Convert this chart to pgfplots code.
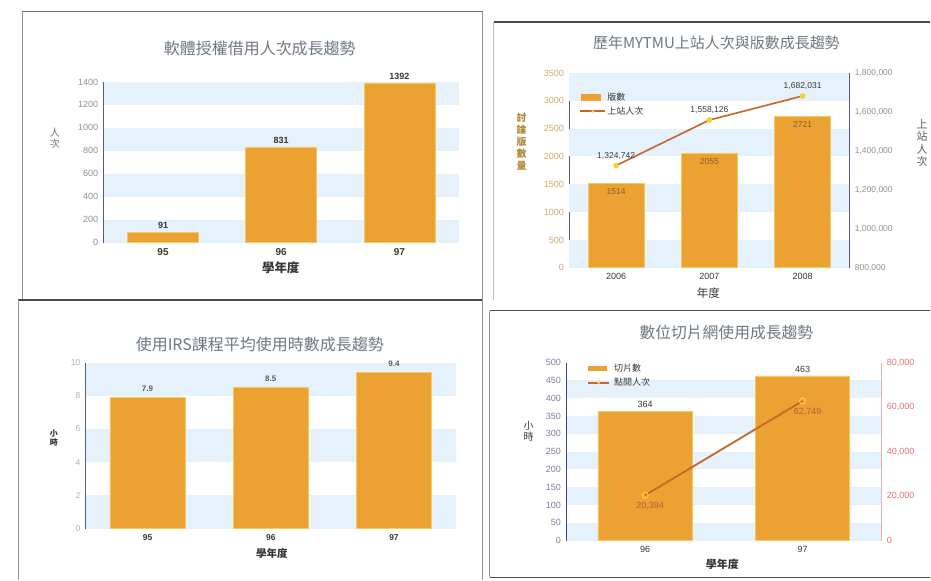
\documentclass[border=0pt]{standalone}
\usepackage{pgfplots}
\pgfplotsset{compat=1.18}
\usepackage{fontspec}
\setmainfont{Liberation Sans}
\newfontfamily\cjk{Noto Sans CJK TC}
\definecolor{barorange}{RGB}{236,162,50}
\definecolor{baredge}{RGB}{246,200,95}
\definecolor{band}{RGB}{230,242,251}
\definecolor{linebrown}{RGB}{198,102,42}
\definecolor{titlegrey}{RGB}{110,120,132}
\definecolor{tickgrey}{RGB}{145,145,145}
\definecolor{darktxt}{RGB}{55,55,55}
\definecolor{axisline}{RGB}{85,95,115}
\definecolor{navyaxis}{RGB}{60,70,110}
\definecolor{gold}{RGB}{180,135,55}
\definecolor{goldtick}{RGB}{205,170,105}
\definecolor{inbar}{RGB}{130,95,45}
\definecolor{bluegrey}{RGB}{120,130,160}
\definecolor{pinkred}{RGB}{225,115,115}
\definecolor{pinkaxis}{RGB}{238,175,175}
\definecolor{frame}{RGB}{75,75,75}
\definecolor{markyellow}{RGB}{250,205,60}
\definecolor{lblred}{RGB}{190,90,60}

\newcommand{\band}[4]{\addplot[fill=band, draw=none, forget plot] coordinates {(#3,#1) (#4,#1) (#4,#2) (#3,#2)} -- cycle;}

\pgfplotsset{
  panel/.style={
    scale only axis, anchor=south west, clip=false,
    axis lines=left, axis line style={axisline, line width=0.9pt, -},
    tick style={draw=none},
    /pgf/number format/assume math mode=true,
    /pgf/number format/fixed,
    /pgf/number format/1000 sep={},
    scaled y ticks=false,
  },
}

\begin{document}
\begin{tikzpicture}
\fill[white] (0pt,0pt) rectangle (931pt,581pt);
% panel frames
\draw[frame!80, line width=1pt] (22pt,569pt) -- (483pt,569pt);
\draw[frame!60, line width=0.8pt] (22pt,569pt) -- (22pt,281pt);
\draw[frame, line width=2pt] (18pt,281pt) -- (483pt,281pt);
\draw[frame!60, line width=0.8pt] (483pt,569pt) -- (483pt,0pt);
\draw[frame!60, line width=0.8pt] (18pt,281pt) -- (18pt,0pt);
\draw[frame, line width=1.5pt] (494pt,559pt) -- (931pt,559pt);
\draw[frame!35, line width=0.8pt] (494pt,559pt) -- (494pt,281pt);
\draw[frame, line width=1.5pt] (490pt,270pt) -- (931pt,270pt);
\draw[frame!60, line width=0.8pt] (490pt,270pt) -- (490pt,3pt);
\draw[frame, line width=1.2pt] (490pt,3pt) -- (931pt,3pt);

% ---------------- Panel 1 ----------------
\begin{axis}[panel, at={(104pt,338pt)}, width=355pt, height=161pt,
  xmin=-0.5, xmax=2.5, ymin=0, ymax=1400, ytick={0,200,...,1400},
  xtick={0,1,2}, xticklabels={95,96,97},
  xticklabel style={font=\bfseries\fontsize{10}{12}\selectfont, text=darktxt},
  yticklabel style={font=\fontsize{9}{10}\selectfont, text=tickgrey},
]
\band{0}{200}{-0.5}{2.5}
\band{400}{600}{-0.5}{2.5}
\band{800}{1000}{-0.5}{2.5}
\band{1200}{1400}{-0.5}{2.5}
\addplot[ybar, bar width=0.6, fill=barorange, draw=baredge, line width=0.6pt,
  nodes near coords,
  every node near coord/.append style={font=\bfseries\fontsize{9}{10}\selectfont, text=darktxt}]
  coordinates {(0,91) (1,831) (2,1392)};
\end{axis}
\node[font=\cjk\fontsize{16}{17}\selectfont, text=titlegrey] at (260pt,533pt) {軟體授權借用人次成長趨勢};
\node[font=\cjk\bfseries\fontsize{12.5}{14}\selectfont, text=darktxt] at (281pt,313pt) {學年度};
\node[font=\cjk\fontsize{10}{11}\selectfont, text=tickgrey!80!black, align=center] at (55pt,443pt) {人\\次};

% ---------------- Panel 2 ----------------
\begin{axis}[panel, at={(570pt,313pt)}, width=280pt, height=195pt,
  xmin=-0.5, xmax=2.5, ymin=0, ymax=3500, ytick={0,500,...,3500},
  xtick={0,1,2}, xticklabels={2006,2007,2008},
  xticklabel style={font=\fontsize{9}{10}\selectfont, text=darktxt},
  yticklabel style={font=\fontsize{9}{10}\selectfont, text=goldtick},
  legend style={at={(0.035,0.915)}, anchor=north west, draw=none, fill=none,
    font=\cjk\fontsize{9}{10}\selectfont, text=darktxt, row sep=1pt, inner sep=1pt},
  legend cell align=left,
]
\band{0}{500}{-0.5}{2.5}
\band{1000}{1500}{-0.5}{2.5}
\band{2000}{2500}{-0.5}{2.5}
\band{3000}{3500}{-0.5}{2.5}
\addplot[ybar, bar width=0.6, fill=barorange, draw=baredge, line width=0.6pt, forget plot,
  nodes near coords, nodes near coords align={below},
  every node near coord/.append style={font=\fontsize{8.5}{10}\selectfont, text=inbar, yshift=-2pt}]
  coordinates {(0,1514) (1,2055) (2,2721)};
\addlegendimage{legend image code/.code={\fill[barorange, draw=none] (1pt,-3.5pt) rectangle (21pt,3.5pt); \path[draw=none] (0pt,0pt) -- (25pt,0pt);}}
\addlegendentry{版數}
\addlegendimage{legend image code/.code={\fill[linebrown, draw=none] (0pt,-0.9pt) rectangle (25pt,0.9pt); \fill[markyellow, draw=none] (12.5pt,0pt) circle (1.7pt);}}
\addlegendentry{上站人次}
\end{axis}
\begin{axis}[panel, at={(570pt,313pt)}, width=280pt, height=195pt,
  xmin=-0.5, xmax=2.5, axis x line=none, axis y line*=right,
  axis line style={axisline, line width=0.9pt, -},
  ymin=800000, ymax=1800000,
  ytick={800000,1000000,1200000,1400000,1600000,1800000},
  yticklabels={{800,000},{1,000,000},{1,200,000},{1,400,000},{1,600,000},{1,800,000}},
  yticklabel style={font=\fontsize{8.5}{10}\selectfont, text=tickgrey},
]
\addplot[linebrown, line width=1.6pt, mark=*, mark size=2pt,
  mark options={fill=markyellow, draw=markyellow},
  point meta=explicit symbolic, nodes near coords,
  every node near coord/.append style={anchor=south, yshift=2pt, font=\fontsize{8.5}{10}\selectfont, text=darktxt}]
  table[meta=lab] {
x y lab
0 1324742 1,324,742
1 1558126 1,558,126
2 1682031 1,682,031
};
\end{axis}
\node[font=\cjk\fontsize{15}{16}\selectfont, text=titlegrey] at (717pt,538pt) {歷年MYTMU上站人次與版數成長趨勢};
\node[font=\cjk\fontsize{11.5}{13}\selectfont, text=darktxt] at (709pt,288pt) {年度};
\node[font=\cjk\bfseries\fontsize{10}{12}\selectfont, text=gold, align=center] at (522pt,439pt) {討\\論\\版\\數\\量};
\node[font=\cjk\fontsize{11}{12.5}\selectfont, text=darktxt!80, align=center] at (923pt,438pt) {上\\站\\人\\次};

% ---------------- Panel 3 ----------------
\begin{axis}[panel, at={(86pt,52pt)}, width=370pt, height=166pt,
  xmin=-0.5, xmax=2.5, ymin=0, ymax=10, ytick={0,2,...,10},
  xtick={0,1,2}, xticklabels={95,96,97},
  xticklabel style={font=\bfseries\fontsize{8.5}{10}\selectfont, text=darktxt},
  yticklabel style={font=\fontsize{8.5}{10}\selectfont, text=tickgrey!70},
]
\band{0}{2}{-0.5}{2.5}
\band{4}{6}{-0.5}{2.5}
\band{8}{10}{-0.5}{2.5}
\addplot[ybar, bar width=0.61, fill=barorange, draw=baredge, line width=0.6pt,
  nodes near coords,
  every node near coord/.append style={yshift=2pt, font=\bfseries\fontsize{8}{10}\selectfont, text=darktxt!80}]
  coordinates {(0,7.9) (1,8.5) (2,9.4)};
\end{axis}
\node[font=\cjk\fontsize{16}{17}\selectfont, text=titlegrey] at (260pt,236pt) {使用IRS課程平均使用時數成長趨勢};
\node[font=\cjk\bfseries\fontsize{10.5}{12}\selectfont, text=darktxt] at (272pt,27pt) {學年度};
\node[font=\cjk\bfseries\fontsize{8}{9}\selectfont, text=darktxt, align=center] at (54pt,143pt) {小\\時};

% ---------------- Panel 4 ----------------
\begin{axis}[panel, at={(567pt,40pt)}, width=315pt, height=178pt,
  xmin=-0.5, xmax=1.5, ymin=0, ymax=500, ytick={0,50,...,500},
  axis line style={navyaxis, line width=0.9pt, -},
  xtick={0,1}, xticklabels={96,97},
  xticklabel style={font=\fontsize{9}{10}\selectfont, text=darktxt},
  yticklabel style={font=\fontsize{9}{10}\selectfont, text=bluegrey},
  legend style={at={(0.065,1.01)}, anchor=north west, draw=none, fill=none,
    font=\cjk\fontsize{9}{10}\selectfont, text=darktxt, row sep=1pt, inner sep=1pt},
  legend cell align=left,
]
\band{0}{50}{-0.5}{1.5}
\band{100}{150}{-0.5}{1.5}
\band{200}{250}{-0.5}{1.5}
\band{300}{350}{-0.5}{1.5}
\band{400}{450}{-0.5}{1.5}
\addplot[ybar, bar width=0.6, fill=barorange, draw=baredge, line width=0.6pt, forget plot,
  nodes near coords,
  every node near coord/.append style={font=\fontsize{9}{10}\selectfont, text=darktxt}]
  coordinates {(0,364) (1,463)};
\addlegendimage{legend image code/.code={\fill[barorange, draw=none] (0pt,-2.5pt) rectangle (19pt,2.5pt); \path[draw=none] (0pt,0pt) -- (24pt,0pt);}}
\addlegendentry{切片數}
\addlegendimage{legend image code/.code={\fill[linebrown, draw=none] (0pt,-0.9pt) rectangle (21pt,0.9pt); \fill[markyellow, draw=none] (10.5pt,0pt) circle (1.5pt); \path[draw=none] (0pt,0pt) -- (24pt,0pt);}}
\addlegendentry{點閱人次}
\end{axis}
\begin{axis}[panel, at={(567pt,40pt)}, width=315pt, height=178pt,
  xmin=-0.5, xmax=1.5, axis x line=none, axis y line*=right,
  axis line style={pinkaxis, line width=0.9pt, -},
  ymin=0, ymax=80000,
  ytick={0,20000,40000,60000,80000},
  yticklabels={0,{20,000},{40,000},{60,000},{80,000}},
  yticklabel style={font=\fontsize{9}{10}\selectfont, text=pinkred},
]
\addplot[linebrown, line width=1.8pt, mark=o, mark size=3pt,
  mark options={draw=markyellow, fill=white, line width=1.2pt},
  point meta=explicit symbolic, nodes near coords,
  every node near coord/.append style={anchor=north, yshift=-3pt, xshift=5pt, font=\fontsize{9}{10}\selectfont, text=lblred}]
  table[meta=lab] {
x y lab
0 20394 20,394
1 62749 62,749
};
\end{axis}
\node[font=\cjk\fontsize{15.8}{17}\selectfont, text=titlegrey] at (727pt,248pt) {數位切片網使用成長趨勢};
\node[font=\cjk\bfseries\fontsize{11}{12}\selectfont, text=darktxt] at (723pt,16pt) {學年度};
\node[font=\cjk\fontsize{10}{11}\selectfont, text=darktxt, align=center] at (529pt,149pt) {小\\時};
\end{tikzpicture}
\end{document}
